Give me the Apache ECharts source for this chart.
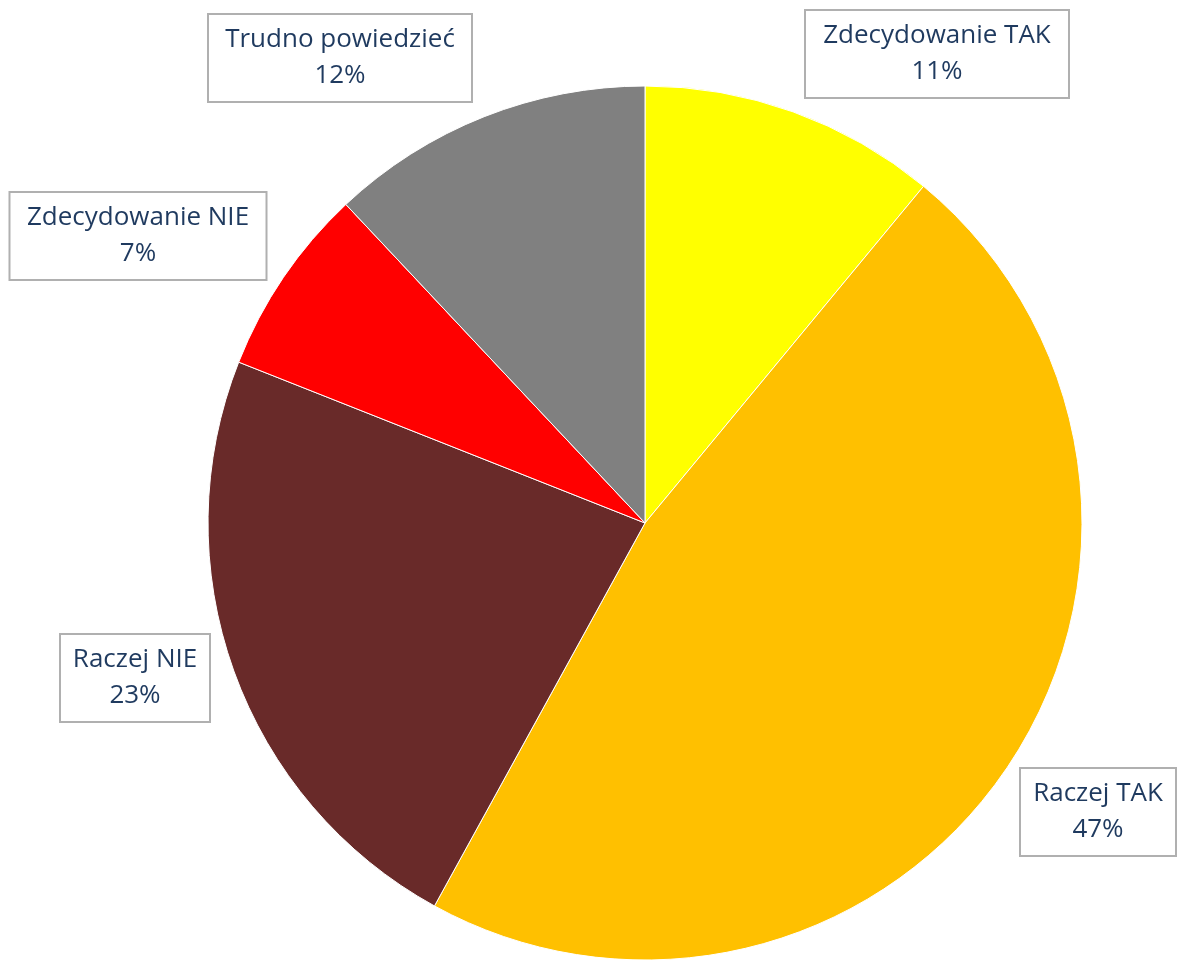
<!DOCTYPE html>
<html>
<head>
<meta charset="utf-8">
<script src="https://cdn.jsdelivr.net/npm/echarts@6/dist/echarts.min.js"></script>
<style>
  html, body { margin: 0; padding: 0; background: #fff; }
  #chart { width: 1177px; height: 960px; }
</style>
</head>
<body>
<div id="chart"></div>
<script>
// answers, clockwise from 12 o'clock
const categories = ['Zdecydowanie TAK', 'Raczej TAK', 'Raczej NIE', 'Zdecydowanie NIE', 'Trudno powiedzieć']
const values = [11, 47, 23, 7, 12]
const colors = ['#FFFF00', '#FFC000', '#692A29', '#FF0000', '#808080']

// label boxes: centre and inner width
const labelPos = [[937, 54], [1098, 812], [135, 678], [138, 236], [340, 58]]
const labelWidth = [242, 134, 128, 235, 242]

const myChart = echarts.init(document.getElementById('chart'))

myChart.setOption({
  animation: false,
  series: [
    {
      type: 'pie',
      center: [645, 523],
      radius: 437,
      startAngle: 90,
      clockwise: true,
      data: categories.map((name, i) => ({
        name: name,
        value: values[i],
        itemStyle: { color: colors[i] },
        label: { width: labelWidth[i] }
      })),
      itemStyle: { borderColor: '#fff', borderWidth: 1 },
      label: {
        show: true,
        position: 'outside',
        formatter: '{b}\n{c}%',
        fontFamily: 'Open Sans',
        fontSize: 26,
        lineHeight: 36,
        color: '#1F3A5F',
        align: 'center',
        overflow: 'none',
        backgroundColor: '#fff',
        borderColor: '#B0B0B0',
        borderWidth: 2,
        padding: [11, 10, 3, 10]
      },
      labelLine: { show: false },
      labelLayout: (params) => ({
        x: labelPos[params.dataIndex][0],
        y: labelPos[params.dataIndex][1],
        align: 'center',
        verticalAlign: 'middle'
      })
    }
  ]
})
</script>
</body>
</html>
